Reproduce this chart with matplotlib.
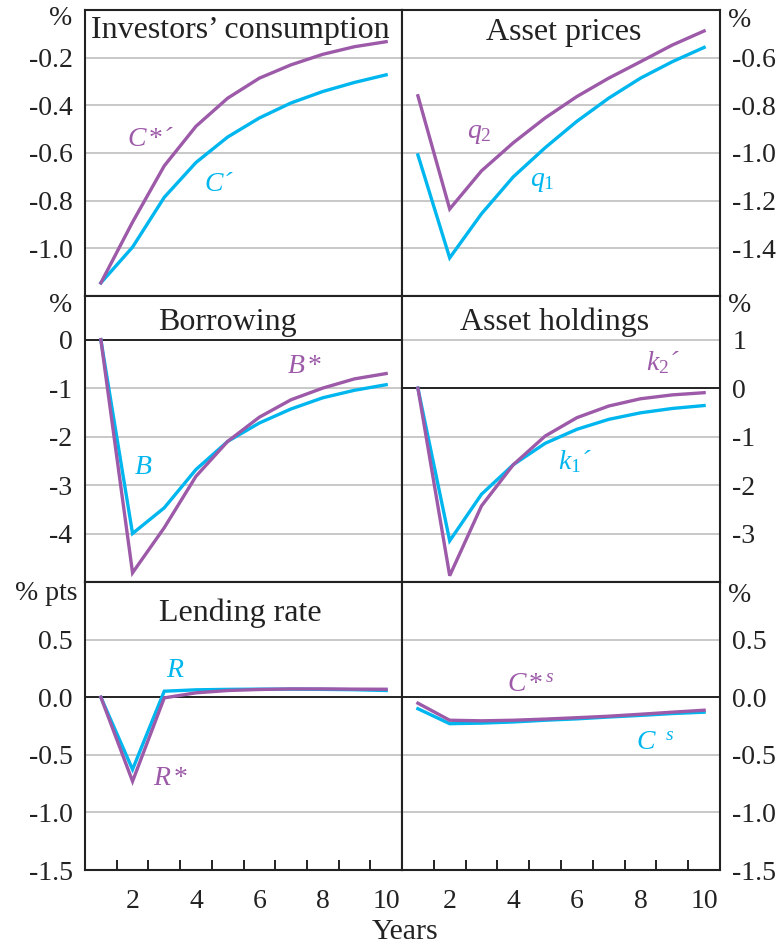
import matplotlib
matplotlib.use("Agg")
import matplotlib.pyplot as plt
from matplotlib.ticker import FixedLocator

plt.rcParams['font.family'] = ['Liberation Serif', 'DejaVu Serif']
plt.rcParams['mathtext.fontset'] = 'custom'
plt.rcParams['mathtext.rm'] = 'Liberation Serif'
plt.rcParams['mathtext.it'] = 'Liberation Serif:italic'

years = list(range(1, 11))

# investors' consumption
cons_foreign = [-1.145, -0.89, -0.654, -0.488, -0.37, -0.286, -0.23, -0.186, -0.154, -0.133]
cons_home = [-1.145, -0.995, -0.786, -0.64, -0.533, -0.453, -0.39, -0.342, -0.304, -0.272]
# asset prices
q2 = [-0.76, -1.235, -1.075, -0.957, -0.853, -0.763, -0.686, -0.617, -0.547, -0.488]
q1 = [-1.008, -1.44, -1.255, -1.10, -0.978, -0.867, -0.77, -0.686, -0.617, -0.557]
# borrowing
b_star = [0, -4.81, -3.88, -2.82, -2.10, -1.60, -1.24, -1.0, -0.81, -0.70]
b_home = [0, -4.0, -3.47, -2.68, -2.10, -1.72, -1.43, -1.20, -1.045, -0.93]
# asset holdings
k2 = [0, -3.87, -2.43, -1.58, -0.99, -0.61, -0.37, -0.22, -0.14, -0.095]
k1 = [0, -3.15, -2.19, -1.58, -1.14, -0.85, -0.645, -0.51, -0.42, -0.36]
# lending rate
r_star = [0, -0.73, -0.006, 0.038, 0.058, 0.067, 0.072, 0.072, 0.07, 0.069]
r_home = [0, -0.627, 0.052, 0.064, 0.068, 0.07, 0.07, 0.068, 0.065, 0.058]
# savers' consumption
cs_star = [-0.052, -0.2, -0.205, -0.2, -0.19, -0.178, -0.165, -0.148, -0.13, -0.113]
cs_home = [-0.1, -0.23, -0.225, -0.215, -0.2, -0.188, -0.172, -0.158, -0.142, -0.13]

purple = '#9C5AA8'
cyan = '#00B6EE'
W, H = 777, 947

fig = plt.figure(figsize=(W / 100, H / 100), dpi=100)


def px_axes(x0, y0, x1, y1):
    # axes from pixel box (top-left origin)
    return fig.add_axes([x0 / W, 1 - y1 / H, (x1 - x0) / W, (y1 - y0) / H])


# panel spec: box, ylim, yticks, fmt, title, title pos, series, labels
panels = [
    dict(box=(85, 10, 402, 296), ylim=(-1.2, 0.0), yticks=[-1.0, -0.8, -0.6, -0.4, -0.2], fmt='{:.1f}',
         title="Investors\u2019 consumption", tx=0.49, ty=0.902, zero=False,
         cyan=cons_home, purple=cons_foreign,
         labels=[(r'$C\,{*}$' + '\u00b4', 1.83, -0.571, purple), ('$C$\u00b4', 4.24, -0.758, cyan)]),
    dict(box=(402, 10, 720, 296), ylim=(-1.6, -0.4), yticks=[-1.4, -1.2, -1.0, -0.8, -0.6], fmt='{:.1f}',
         title="Asset prices", tx=0.51, ty=0.895, zero=False,
         cyan=q1, purple=q2,
         labels=[('$q_2$', 2.53, -0.9375, purple), ('$q_1$', 4.53, -1.1375, cyan)]),
    dict(box=(85, 296, 402, 582), ylim=(-5.0, 0.9), yticks=[-4, -3, -2, -1, 0], fmt='{:.0f}',
         title="Borrowing", tx=0.45, ty=0.881, zero=True,
         cyan=b_home, purple=b_star,
         labels=[(r'$B\,{*}$', 6.87, -0.69, purple), ('$B$', 2.06, -2.78, cyan)]),
    dict(box=(402, 296, 720, 582), ylim=(-4.0, 1.9), yticks=[-3, -2, -1, 0, 1], fmt='{:.0f}',
         title="Asset holdings", tx=0.48, ty=0.881, zero=True,
         cyan=k1, purple=k2,
         labels=[('$k_2$\u00b4', 8.17, 0.38, purple), ('$k_1$\u00b4', 5.41, -1.68, cyan)]),
    dict(box=(85, 582, 402, 870), ylim=(-1.5, 1.0), yticks=[-1.5, -1.0, -0.5, 0.0, 0.5], fmt='{:.1f}',
         title="Lending rate", tx=0.49, ty=0.865, zero=True,
         cyan=r_home, purple=r_star,
         labels=[('$R$', 3.04, 0.173, cyan), (r'$R\,{*}$', 2.63, -0.765, purple)]),
    dict(box=(402, 582, 720, 870), ylim=(-1.5, 1.0), yticks=[-1.5, -1.0, -0.5, 0.0, 0.5], fmt='{:.1f}',
         title="", tx=0.5, ty=0.9, zero=True,
         cyan=cs_home, purple=cs_star,
         labels=[(r'$C\,{*}^{\,s}$', 3.80, 0.043, purple), (r'$C^{\ \ s}$', 7.85, -0.46, cyan)]),
]

for i, p in enumerate(panels):
    ax = px_axes(*p['box'])
    right_side = (i % 2 == 1)
    bottom_row = (i >= 4)

    ax.set_xlim(0.5, 10.5)
    ax.set_ylim(*p['ylim'])

    # gridlines and zero line
    for yv in p['yticks']:
        if p['zero'] and yv == 0:
            ax.axhline(0, color='#222222', lw=1.4, zorder=1)
        else:
            ax.axhline(yv, color='#c4c4c4', lw=1.3, zorder=1)

    ax.plot(years, p['cyan'], color=cyan, lw=2.4, zorder=3, solid_joinstyle='miter')
    ax.plot(years, p['purple'], color=purple, lw=2.4, zorder=4, solid_joinstyle='miter')

    for txt, lx, ly, col in p['labels']:
        ax.text(lx, ly, txt, color=col, fontsize=20, fontstyle='italic', ha='left', va='baseline')

    if p['title']:
        ax.text(p['tx'], p['ty'], p['title'], transform=ax.transAxes, fontsize=23,
                ha='center', va='baseline', color='#222222')

    ax.set_yticks(p['yticks'])
    ax.set_yticklabels([p['fmt'].format(v) for v in p['yticks']], fontsize=20, color='#222222')
    if right_side:
        ax.yaxis.tick_right()
    ax.tick_params(axis='y', length=0, pad=9)

    if bottom_row:
        ax.set_xticks([2, 4, 6, 8, 10])
        ax.set_xticklabels(['2', '4', '6', '8', '10'], fontsize=20, color='#222222')
        ax.xaxis.set_minor_locator(FixedLocator([1.5 + k for k in range(9)]))
        ax.tick_params(axis='x', which='major', length=0, pad=14)
        ax.tick_params(axis='x', which='minor', direction='in', length=7, width=1.4, color='#222222')
    else:
        ax.set_xticks([])

    for s in ax.spines.values():
        s.set_linewidth(1.5)
        s.set_color('#222222')

# unit labels
units = [('%', 61, 25, 'center'), ('%', 728, 27, 'left'),
         ('%', 61, 312, 'center'), ('%', 728, 312, 'left'),
         ('% pts', 46, 600, 'center'), ('%', 728, 602, 'left')]
for txt, ux, uy, ha in units:
    fig.text(ux / W, 1 - uy / H, txt, fontsize=20, ha=ha, va='baseline', color='#222222')

fig.text(405 / W, 1 - 939 / H, 'Years', fontsize=21.5, ha='center', va='baseline', color='#222222')

plt.savefig('out.png', dpi=100)
